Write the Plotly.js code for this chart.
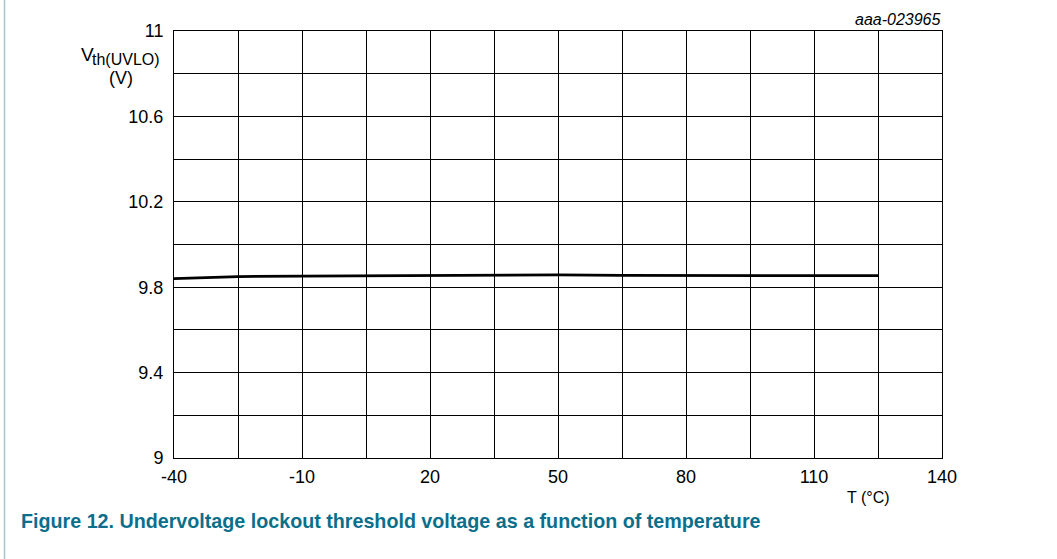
<!DOCTYPE html>
<html>
<head>
<meta charset="utf-8">
<script src="https://cdn.plot.ly/plotly-3.0.1.min.js"></script>
<style>
html,body{margin:0;padding:0;background:#fff;}
#chart{width:1057px;height:559px;}
</style>
</head>
<body>
<div id="chart"></div>
<script>
// Data
const temperature = [-40, -25, -10, 5, 20, 35, 50, 65, 80, 95, 110, 125];
const vthUVLO = [9.840, 9.850, 9.852, 9.854, 9.855, 9.857, 9.858, 9.855, 9.854, 9.854, 9.854, 9.854];

const xTickVals = [-40, -25, -10, 5, 20, 35, 50, 65, 80, 95, 110, 125, 140];
const xTickText = ['-40', '', '-10', '', '20', '', '50', '', '80', '', '110', '', '140'];
const yTickVals = [9, 9.2, 9.4, 9.6, 9.8, 10, 10.2, 10.4, 10.6, 10.8, 11];
const yTickText = ['9', '', '9.4', '', '9.8', '', '10.2', '', '10.6', '', '11'];

const L = 174, R = 942, T = 31, B = 458, W = 1057, H = 559;
const px = v => (v - L) / (R - L);
const py = v => (B - v) / (B - T);
const FONT = 'Liberation Sans, Arial, sans-serif';

const trace = {
  x: temperature, y: vthUVLO, type: 'scatter', mode: 'lines',
  line: {color: '#000', width: 2.8}, hoverinfo: 'skip'
};

const layout = {
  width: W, height: H,
  margin: {l: L, r: W - R, t: T, b: H - B, pad: 0},
  paper_bgcolor: '#fff', plot_bgcolor: '#fff',
  showlegend: false,
  font: {family: FONT, color: '#000', size: 18},
  xaxis: {
    range: [-40, 140], tickmode: 'array', tickvals: xTickVals, ticktext: xTickText,
    showgrid: true, gridcolor: '#000', gridwidth: 1, zeroline: false,
    showline: true, linecolor: '#000', linewidth: 1, mirror: true,
    ticks: '', ticklabelstandoff: 2, tickfont: {size: 18, family: FONT, color: '#000'}
  },
  yaxis: {
    range: [9, 11], tickmode: 'array', tickvals: yTickVals, ticktext: yTickText,
    showgrid: true, gridcolor: '#000', gridwidth: 1, zeroline: false,
    showline: true, linecolor: '#000', linewidth: 1, mirror: true,
    ticks: '', ticklabelstandoff: 6, tickfont: {size: 18, family: FONT, color: '#000'}
  },
  annotations: [
    {xref: 'paper', yref: 'paper', x: px(943), y: py(20), xanchor: 'right', yanchor: 'middle',
     text: '<i>aaa-023965</i>', showarrow: false, font: {size: 16, family: FONT, color: '#000'}},
    {xref: 'paper', yref: 'paper', x: px(96), y: py(55), xanchor: 'right', yanchor: 'middle',
     text: 'V', showarrow: false, font: {size: 19, family: FONT, color: '#000'}},
    {xref: 'paper', yref: 'paper', x: px(90), y: py(60), xanchor: 'left', yanchor: 'middle',
     text: 'th(UVLO)', showarrow: false, font: {size: 16, family: FONT, color: '#000'}},
    {xref: 'paper', yref: 'paper', x: px(121), y: py(78), xanchor: 'center', yanchor: 'middle',
     text: '(V)', showarrow: false, font: {size: 18, family: FONT, color: '#000'}},
    {xref: 'paper', yref: 'paper', x: px(868), y: py(497), xanchor: 'center', yanchor: 'middle',
     text: 'T (°C)', showarrow: false, font: {size: 16, family: FONT, color: '#000'}},
    {xref: 'paper', yref: 'paper', x: px(19), y: py(521), xanchor: 'left', yanchor: 'middle',
     text: '<b>Figure 12. Undervoltage lockout threshold voltage as a function of temperature</b>',
     showarrow: false, font: {size: 19.7, family: FONT, color: '#0b6f8c'}}
  ],
  shapes: [
    {type: 'line', xref: 'paper', yref: 'paper', x0: px(4.5), x1: px(4.5), y0: py(0), y1: py(559),
     line: {color: '#a9c3cc', width: 1.5}}
  ]
};

Plotly.newPlot('chart', [trace], layout, {staticPlot: true, displayModeBar: false});
</script>
</body>
</html>
